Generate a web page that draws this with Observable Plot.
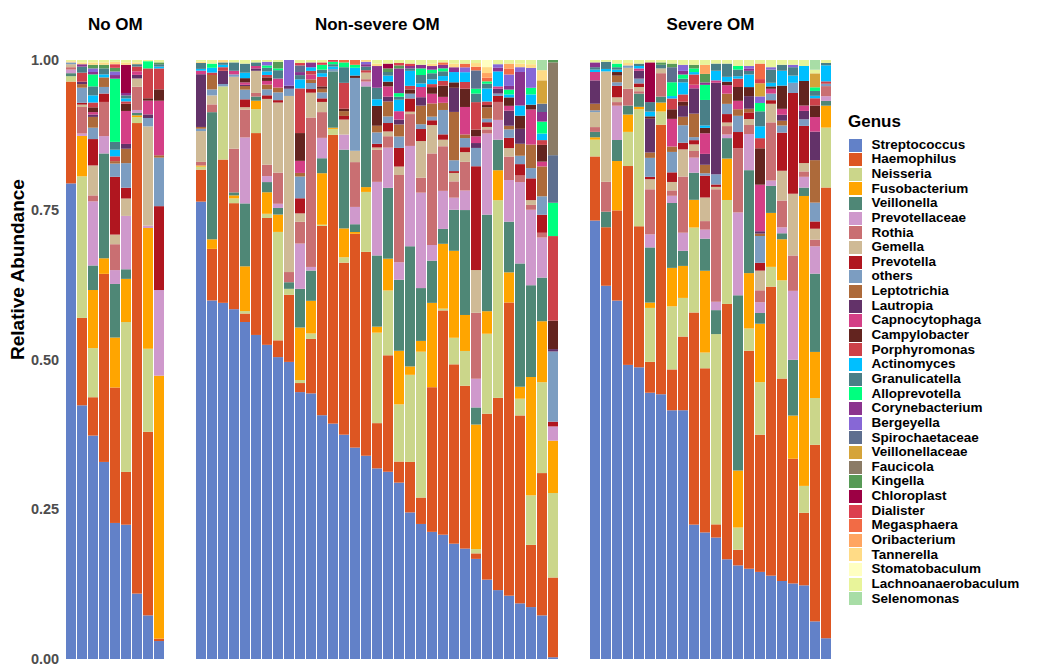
<!DOCTYPE html>
<html>
<head>
<meta charset="utf-8">
<script src="https://cdn.jsdelivr.net/npm/d3@7"></script>
<script src="https://cdn.jsdelivr.net/npm/@observablehq/plot@0.6"></script>
<style>
  body { margin: 0; background: #fff; font-family: "Liberation Sans", Arial, Helvetica, sans-serif; }
  #chart { position: relative; width: 1050px; height: 672px; overflow: hidden; background: #fff; }
  #chart svg { position: absolute; left: 0; top: 0; }
  #legend { position: absolute; left: 848px; top: 111px; color: #000; font-weight: bold; }
  #legend .title { font-size: 17px; line-height: 21px; height: 26.7px; }
  #legend .item { display: flex; align-items: center; height: 14.65px; }
  #legend .sw { width: 13px; height: 13px; margin-left: 1px; flex: none; }
  #legend .lab { font-size: 13.5px; line-height: 14.65px; margin-left: 9.5px; white-space: nowrap; }
</style>
</head>
<body>
<div id="chart"><div id="legend"></div></div>
<script>
const groups = ["No OM", "Non-severe OM", "Severe OM"];
const genusNames = ["Streptococcus","Haemophilus","Neisseria","Fusobacterium","Veillonella","Prevotellaceae","Rothia","Gemella","Prevotella","others","Leptotrichia","Lautropia","Capnocytophaga","Campylobacter","Porphyromonas","Actinomyces","Granulicatella","Alloprevotella","Corynebacterium","Bergeyella","Spirochaetaceae","Veillonellaceae","Faucicola","Kingella","Chloroplast","Dialister","Megasphaera","Oribacterium","Tannerella","Stomatobaculum","Lachnoanaerobaculum","Selenomonas"];
const genusCodes = ["St","Ha","Ne","Fu","Ve","Pe","Ro","Ge","Pr","Ot","Le","La","Ca","Cm","Po","Ac","Gr","Al","Co","Be","Sp","Vc","Fa","Ki","Ch","Di","Me","Or","Ta","Sb","Lc","Se"];
const genusColors = ["#6281C8","#DD5622","#CBD68A","#FFA500","#4F8776","#CF99CC","#C96F72","#CFBA96","#B0161F","#7C9DC1","#AD6A3A","#633269","#D43F86","#63241F","#CD4149","#00BFFF","#4A7F87","#00FF7F","#8B338E","#8767D6","#5E6F8F","#D5A43A","#8B7B66","#579A56","#9C0044","#DC3F4F","#F26B45","#FFA561","#FFDB86","#FFFFC2","#E8F49A","#A8DDA6"];
const yTicks = [0, 0.25, 0.5, 0.75, 1];

const noOM = [
  {St:.794,Ha:.170,Ne:.009,Ve:.005,Pe:.006,Ro:.004,Ge:.005,Ot:.003,Lc:.002,Ta:.002},
  {St:.421,Ha:.145,Ne:.235,Fu:.067,Pe:.004,Ro:.044,Ge:.004,Pr:.003,Ot:.025,Le:.006,La:.004,Po:.015,Gr:.010,Co:.004,Ta:.003,Lc:.004},
  {St:.373,Ha:.064,Ne:.082,Fu:.097,Ve:.041,Pe:.107,Ro:.010,Ge:.050,Pr:.044,Ot:.019,Le:.018,La:.004,Ca:.004,Cm:.008,Po:.008,Ac:.012,Gr:.015,Al:.020,Co:.004,Be:.006,Ki:.006,Ta:.004,Lc:.004},
  {St:.329,Ha:.314,Fu:.026,Ve:.175,Pe:.029,Ro:.057,Pr:.014,Ot:.011,Le:.016,Ac:.005,Gr:.010,Ki:.006,Ta:.004,Lc:.004},
  {St:.226,Ha:.225,Fu:.083,Ve:.089,Pe:.023,Ro:.043,Ge:.016,Pr:.096,Ot:.022,Le:.004,Po:.008,Ac:.011,Gr:.013,Al:.105,Co:.006,Be:.006,Ki:.006,Di:.006,Ta:.004,Lc:.003},
  {St:.224,Ha:.088,Ne:.250,Fu:.072,Ve:.016,Pe:.089,Ge:.029,Pr:.018,Ot:.041,Le:.024,La:.008,Ca:.055,Cm:.012,Po:.004,Ac:.005,Gr:.005,Co:.004,Ch:.047,Ta:.004,Lc:.004},
  {St:.110,Ha:.791,Ne:.010,Fu:.003,Ve:.004,Pe:.005,Ro:.039,Ge:.014,La:.006,Ca:.006,Po:.008,Gr:.004,Ta:.003,Lc:.004},
  {St:.073,Ha:.307,Ne:.139,Fu:.202,Pe:.004,Ge:.166,Ot:.014,La:.006,Ca:.023,Cm:.004,Po:.050,Al:.012,Lc:.002},
  {St:.030,Ha:.004,Fu:.439,Pe:.143,Pr:.140,Ot:.081,Le:.004,Ca:.091,Cm:.019,Po:.035,Ac:.003,Gr:.004,Ki:.003,Lc:.004}
];

const nonSevereOM = [
  {St:.772,Ha:.054,Ne:.005,Fu:.002,Ro:.006,Ge:.052,Ot:.004,Le:.003,La:.089,Ca:.006,Ac:.003,Gr:.010,Lc:.003,Ta:.002},
  {St:.598,Ha:.086,Fu:.016,Ve:.212,Ro:.013,Ge:.015,Ot:.010,Le:.024,Po:.004,Ac:.008,Al:.007,Lc:.006},
  {St:.594,Ha:.239,Ne:.122,Ot:.004,La:.022,Po:.006,Ac:.004,Gr:.004,Ta:.004},
  {St:.584,Ha:.177,Ne:.008,Fu:.005,Ve:.005,Ro:.073,Ge:.120,Ot:.004,Ca:.006,Gr:.014,Lc:.004},
  {St:.557,Ha:.014,Ne:.004,Fu:.074,Ve:.104,Pe:.109,Ro:.046,Ge:.004,Pr:.013,Ot:.016,Le:.006,La:.002,Ca:.004,Cm:.007,Ac:.009,Gr:.015,Lc:.006},
  {St:.541,Ha:.337,Ne:.040,Fu:.014,Ve:.007,Ro:.006,Ge:.037,La:.004,Ca:.004,Gr:.006,Lc:.004},
  {St:.525,Ha:.212,Ne:.007,Fu:.036,Ve:.017,Pe:.010,Ro:.019,Ge:.110,Pr:.006,Ot:.010,Le:.008,Ca:.006,Cm:.006,Po:.004,Ac:.006,Gr:.006,Al:.004,Be:.006,Lc:.003},
  {St:.504,Ha:.028,Ne:.181,Fu:.029,Ve:.011,Pe:.007,Ro:.052,Ge:.117,Pr:.004,Ot:.013,Le:.008,Ca:.015,Gr:.014,Al:.003,Ki:.011,Lc:.003},
  {St:.496,Ha:.112,Ne:.010,Ve:.011,Ro:.017,Ge:.294,Ot:.012,La:.005,Be:.043},
  {St:.442,Ha:.015,Ne:.005,Fu:.087,Ve:.064,Pe:.075,Ro:.036,Ge:.014,Pr:.025,Ot:.036,Le:.006,Ca:.020,Cm:.046,Po:.074,Ac:.015,Gr:.007,Co:.005,Sp:.011,Di:.004,Lc:.005},
  {St:.439,Ha:.090,Ne:.009,Fu:.054,Ve:.050,Pe:.006,Ro:.247,Ge:.041,Pr:.006,Ot:.010,Le:.006,Ca:.008,Po:.006,Ac:.006,Co:.008,Lc:.004},
  {St:.407,Ha:.316,Ne:.002,Fu:.086,Ve:.025,Pe:.034,Ro:.043,Ge:.017,Pr:.006,Ot:.010,Le:.006,Cm:.004,Po:.016,Ac:.006,Gr:.006,Al:.008,Di:.004,Lc:.004},
  {St:.393,Ha:.482,Ne:.010,Fu:.002,Ve:.094,Ot:.004,Ac:.004,Gr:.004,Al:.004,Di:.003},
  {St:.373,Ha:.286,Ne:.009,Fu:.048,Ve:.131,Pe:.025,Ge:.025,Pr:.006,Le:.008,Cm:.004,Po:.043,Gr:.026,Al:.008,Me:.004},
  {St:.354,Ha:.358,Fu:.003,Ve:.013,Pe:.029,Ro:.075,Ge:.019,Ot:.122,Cm:.004,Ac:.013,Al:.005,Me:.008},
  {St:.339,Ha:.340,Ne:.100,Fu:.008,Ve:.168,Pe:.008,Ro:.004,Ge:.011,Po:.004,Gr:.006,Co:.004,Be:.004,Ta:.003},
  {St:.316,Ha:.075,Ne:.150,Fu:.010,Ve:.118,Pe:.122,Ro:.053,Ge:.004,Pr:.006,Ot:.019,Le:.011,Cm:.033,Ac:.011,Gr:.019,Co:.036,Ta:.004,Lc:.006},
  {St:.312,Ha:.194,Ne:.108,Fu:.053,Ve:.118,Pe:.067,Ro:.019,Ge:.008,Pr:.014,Ot:.011,Le:.025,La:.008,Ca:.017,Cm:.008,Ac:.010,Gr:.006,Ki:.006,Ch:.008,Lc:.006},
  {St:.293,Ha:.035,Ne:.095,Fu:.089,Ve:.118,Pe:.029,Ro:.145,Ge:.014,Pr:.031,Ot:.019,Le:.020,La:.008,Ca:.014,Ac:.019,Gr:.005,Al:.006,Co:.041,Ki:.005,Di:.004,Lc:.005},
  {St:.244,Ha:.084,Ne:.145,Fu:.014,Ve:.200,Pe:.167,Ro:.053,Ge:.004,Pr:.022,Ot:.008,Cm:.007,Po:.006,Ac:.025,Gr:.004,Co:.004,Di:.004,Lc:.006},
  {St:.225,Ha:.044,Ne:.243,Fu:.018,Ve:.088,Pe:.159,Ro:.025,Ge:.061,Pr:.020,Ot:.008,Le:.031,La:.014,Ca:.017,Ac:.006,Gr:.014,Al:.011,Co:.006,Lc:.008},
  {St:.211,Ha:.240,Fu:.140,Ve:.070,Pe:.026,Ro:.152,Ge:.047,Pr:.008,Ot:.006,Le:.022,Ca:.016,Cm:.011,Po:.005,Ac:.008,Gr:.010,Al:.006,Co:.006,Lc:.006,Ta:.004},
  {St:.209,Ha:.377,Ne:.003,Fu:.109,Ve:.025,Pe:.064,Ro:.075,Ge:.011,Pr:.009,Ot:.041,Le:.012,Ca:.010,Cm:.019,Po:.008,Ac:.008,Gr:.008,Al:.005,Co:.006,Lc:.004,Me:.004},
  {St:.191,Ha:.297,Ne:.044,Fu:.144,Ve:.068,Pe:.020,Ro:.027,Ge:.014,Pr:.003,Ot:.018,Le:.080,La:.040,Cm:.009,Ac:.017,Co:.008,Lc:.006,Ta:.006},
  {St:.181,Ha:.267,Ne:.057,Fu:.059,Ve:.172,Pe:.032,Ro:.047,Ge:.016,Pr:.008,Ot:.015,Le:.006,Ca:.045,Cm:.030,Po:.011,Ac:.016,Be:.008,Lc:.006,Me:.006},
  {St:.164,Ha:.009,Ne:.007,Fu:.204,Ve:.028,Pe:.047,Ro:.108,Ge:.070,Pr:.170,Ot:.030,La:.008,Ca:.011,Cm:.011,Po:.045,Gr:.014,Al:.008,Sp:.030,Ta:.006,Me:.006,Lc:.005},
  {St:.134,Ha:.280,Ne:.135,Fu:.038,Ve:.163,Pe:.137,Ro:.007,Ge:.004,Pr:.008,Ot:.006,Le:.019,Cm:.004,Po:.006,Ac:.022,Gr:.008,Al:.004,Me:.006,Or:.008,Ta:.010,Sb:.012},
  {St:.115,Ha:.321,Ne:.330,Fu:.050,Ve:.051,Pe:.033,Ro:.030,Pr:.010,Ot:.004,La:.008,Ca:.004,Ac:.025,Co:.006,Be:.006,Lc:.007},
  {St:.105,Ha:.486,Fu:.050,Ve:.084,Pe:.069,Ro:.039,Ge:.014,Pr:.017,Ot:.014,Le:.006,La:.025,Ca:.008,Cm:.014,Ac:.005,Al:.008,Co:.006,Be:.019,Me:.010,Or:.008,Lc:.006},
  {St:.093,Ha:.314,Ne:.028,Fu:.020,Ve:.206,Pe:.136,Ro:.011,Pr:.019,Ot:.014,Le:.020,La:.025,Cm:.022,Ac:.017,Co:.056,Be:.008,Lc:.006,Ta:.006},
  {St:.086,Ha:.103,Ne:.082,Fu:.196,Ve:.152,Pe:.125,Ro:.008,Ge:.008,Pr:.036,Ot:.017,Le:.039,Ca:.058,Cm:.008,Ac:.017,Al:.011,Be:.033,Lc:.007,Ta:.006},
  {St:.073,Ha:.238,Ne:.152,Fu:.102,Ve:.073,Pe:.067,Ro:.008,Pr:.030,Ot:.031,Le:.050,Ca:.008,Cm:.028,Po:.008,Ac:.011,Al:.020,Co:.016,Sp:.014,Vc:.039,Ta:.017,Se:.017},
  {St:.003,Ha:.134,Ne:.142,Fu:.088,Pe:.024,Pr:.008,Ot:.118,La:.004,Cm:.048,Po:.142,Al:.056,Sp:.080,Fa:.156,Ki:.004}
];

const severeOM = [
  {St:.732,Ha:.107,Ne:.028,Fu:.004,Ve:.009,Ro:.008,Ge:.025,Ot:.003,Le:.011,La:.039,Ca:.014,Ac:.004,Gr:.004,Co:.008,Lc:.004},
  {St:.625,Ha:.098,Ve:.026,Ro:.050,Ge:.185,Ac:.004,Gr:.012,Lc:.003},
  {St:.596,Ha:.150,Fu:.082,Ve:.035,Pe:.057,Ro:.006,Ge:.008,Pr:.019,Ot:.006,Le:.011,Cm:.006,Ac:.004,Gr:.004,Al:.006,Lc:.006},
  {St:.491,Ha:.332,Ne:.057,Fu:.029,Ve:.015,Ro:.028,Ge:.035,Ot:.004,Lc:.005,Ta:.004},
  {St:.486,Ha:.235,Ne:.195,Fu:.004,Ve:.022,Ro:.004,Ge:.007,Pr:.006,Ot:.008,La:.013,Ca:.004,Ac:.004,Gr:.004,Lc:.006},
  {St:.449,Ha:.052,Ne:.091,Fu:.009,Ve:.093,Pe:.022,Ro:.076,Ge:.017,Pr:.004,Ot:.032,Le:.009,La:.057,Cm:.004,Ac:.008,Gr:.016,Ch:.067,Lc:.004},
  {St:.442,Ha:.450,Ne:.022,Fu:.015,Ve:.010,Ro:.039,Ge:.008,Gr:.006,Ki:.004,Lc:.004},
  {St:.414,Ha:.068,Ne:.105,Fu:.064,Ve:.108,Pe:.012,Ro:.009,Ge:.014,Pr:.016,Ot:.034,Le:.009,Ca:.046,Cm:.016,Po:.018,Ac:.004,Al:.023,Sp:.025,Ki:.006,Lc:.006},
  {St:.412,Ha:.122,Ne:.064,Fu:.053,Ve:.025,Pe:.030,Ro:.093,Ge:.045,Pr:.011,Ot:.029,Le:.014,La:.018,Cm:.007,Po:.012,Ac:.020,Gr:.006,Al:.007,Co:.006,Be:.010,Lc:.008},
  {St:.223,Ha:.352,Ne:.141,Fu:.046,Ve:.045,Pe:.025,Ro:.011,Ge:.011,Pr:.007,Ot:.005,Le:.039,La:.042,Ca:.006,Po:.017,Ac:.004,Al:.006,Ki:.006,Lc:.008},
  {St:.209,Ha:.271,Ne:.026,Fu:.135,Ve:.053,Pe:.015,Ro:.014,Ge:.039,Pr:.036,Ot:.004,Le:.014,La:.018,Ca:.034,Cm:.009,Ac:.004,Gr:.042,Al:.025,Co:.004,Ki:.014,Or:.015,Lc:.008},
  {St:.203,Ha:.022,Ne:.318,Ve:.040,Pe:.014,Ro:.188,Ge:.004,Pr:.004,Ot:.017,La:.153,Ca:.004,Ac:.016,Gr:.012,Lc:.006},
  {St:.166,Ha:.425,Ne:.173,Fu:.069,Ve:.034,Pe:.006,Ro:.014,Ge:.006,Pr:.014,Ot:.017,Le:.017,Ca:.014,Cm:.006,Ac:.008,Gr:.022,Lc:.006},
  {St:.156,Ha:.026,Ne:.037,Fu:.095,Ve:.292,Pe:.138,Ro:.107,Pr:.027,Ot:.027,Le:.011,Ca:.014,Cm:.023,Po:.014,Ac:.004,Gr:.011,Al:.006,Lc:.010},
  {St:.150,Ha:.362,Ne:.037,Fu:.092,Ve:.171,Pe:.060,Ro:.015,Ge:.010,Pr:.011,Le:.006,La:.021,Cm:.015,Ac:.021,Gr:.006,Co:.004,Be:.004,Lc:.010},
  {St:.146,Ha:.230,Ne:.088,Fu:.098,Ve:.018,Pe:.018,Ro:.020,Ge:.033,Pr:.013,Ot:.045,Le:.004,La:.004,Ca:.078,Cm:.061,Po:.017,Ac:.020,Gr:.025,Al:.014,Be:.011,Vc:.022,Di:.007,Me:.026,Lc:.006},
  {St:.139,Ha:.482,Ne:.033,Fu:.090,Ve:.045,Pe:.009,Ro:.097,Ge:.031,Pr:.006,Ot:.011,Ca:.008,Cm:.004,Ac:.006,Gr:.022,Be:.004,Lc:.012},
  {St:.131,Ha:.340,Ne:.165,Fu:.069,Ve:.010,Pe:.010,Ro:.045,Ge:.050,Pr:.064,Ot:.012,Le:.008,La:.010,Ca:.010,Cm:.039,Ac:.025,Gr:.010,Lc:.008},
  {St:.126,Ha:.208,Fu:.072,Ve:.093,Pe:.115,Ro:.059,Ge:.103,Pr:.168,Ot:.017,Ac:.012,Gr:.014,Be:.004,Lc:.008},
  {St:.123,Ha:.121,Ne:.045,Fu:.484,Ve:.014,Pe:.018,Ro:.009,Ge:.014,Pr:.062,Ot:.011,La:.014,Ca:.009,Cm:.041,Ac:.025,Lc:.010},
  {St:.062,Ha:.291,Ne:.077,Fu:.076,Ve:.129,Pe:.045,Ro:.011,Ge:.018,Pr:.012,Ot:.031,Le:.070,La:.047,Ca:.024,Cm:.019,Po:.012,Ac:.004,Gr:.008,Al:.006,Vc:.023,Lc:.006,Se:.016},
  {St:.035,Ha:.760,Ne:.101,Fu:.037,Ve:.008,Pe:.008,Ro:.017,Ot:.004,Po:.004,Ac:.027,Gr:.004,Lc:.005}
];

const groupSamples = [noOM, nonSevereOM, severeOM];
// horizontal extent of each panel's bars (layout only)
const panelRanges = [[65.7, 164.05], [195, 558.5], [589, 831]];

const chart = document.getElementById("chart");
const W = 1050, H = 672;

groupSamples.forEach((samples, g) => {
  const ids = samples.map((_, i) => `${groups[g]} ${i + 1}`);
  const rows = [];
  samples.forEach((s, i) => {
    genusCodes.forEach((c, k) => {
      if (s[c]) rows.push({sample: ids[i], genus: genusNames[k], value: s[c]});
    });
  });
  const marks = [
    Plot.barY(rows, Plot.stackY({offset: "normalize"}, {x: "sample", y: "value", fill: "genus"})),
    Plot.text([groups[g]], {frameAnchor: "top", dy: -43, fontSize: 17, fontWeight: "bold", fill: "black"})
  ];
  if (g === 0) {
    marks.push(Plot.text(["Relative Abundance"], {frameAnchor: "left", rotate: -90, dx: -48, fontSize: 19, fontWeight: "bold", fill: "black"}));
  }
  const svg = Plot.plot({
    width: W, height: H,
    marginTop: 60, marginBottom: 13,
    marginLeft: panelRanges[g][0], marginRight: W - panelRanges[g][1],
    style: {background: "transparent", fontFamily: "'Liberation Sans', Arial, Helvetica, sans-serif", fontSize: "14.5px", fontWeight: "bold", color: "#4d4d4d", overflow: "visible"},
    x: {type: "band", domain: ids, paddingInner: 0.1, paddingOuter: 0, axis: null},
    y: {domain: [0, 1], ticks: yTicks, tickFormat: d3.format(".2f"), tickSize: 0, tickPadding: 7, label: null, axis: g === 0 ? "left" : null},
    color: {domain: genusNames, range: genusColors},
    marks
  });
  chart.appendChild(svg);
});

// legend
const legend = document.getElementById("legend");
const t = document.createElement("div");
t.className = "title";
t.textContent = "Genus";
legend.appendChild(t);
genusNames.forEach((name, k) => {
  const item = document.createElement("div");
  item.className = "item";
  const sw = document.createElement("div");
  sw.className = "sw";
  sw.style.background = genusColors[k];
  const lab = document.createElement("div");
  lab.className = "lab";
  lab.textContent = name;
  item.appendChild(sw);
  item.appendChild(lab);
  legend.appendChild(item);
});
</script>
</body>
</html>
